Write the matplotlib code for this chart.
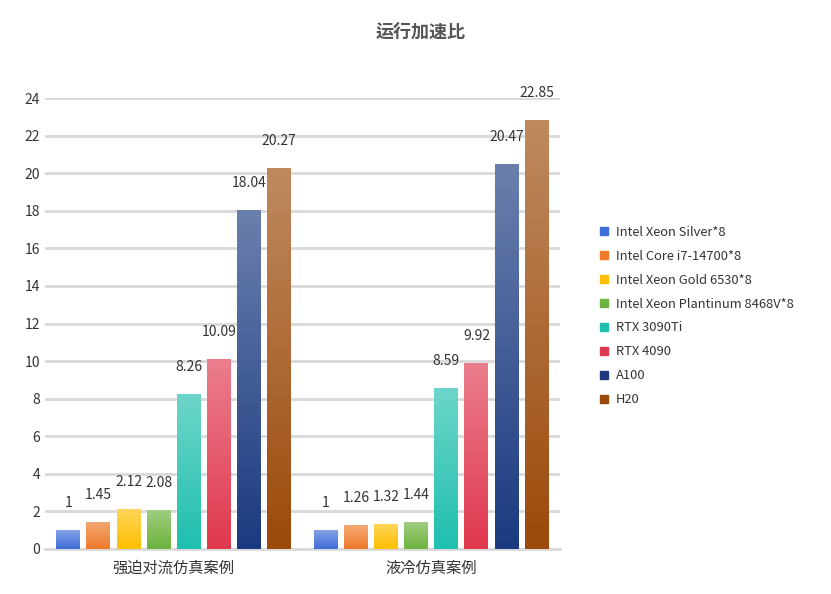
import matplotlib
matplotlib.use("Agg")
import matplotlib.pyplot as plt
import numpy as np
from matplotlib.colors import LinearSegmentedColormap, to_rgb
plt.rcParams['font.family'] = ['Noto Sans CJK JP', 'Noto Sans CJK SC', 'Noto Sans CJK TC', 'Noto Sans CJK KR', 'DejaVu Sans']

categories = ["强迫对流仿真案例", "液冷仿真案例"]
series = ["Intel Xeon Silver*8", "Intel Core i7-14700*8", "Intel Xeon Gold 6530*8",
          "Intel Xeon Plantinum 8468V*8", "RTX 3090Ti", "RTX 4090", "A100", "H20"]
values = [[1, 1], [1.45, 1.26], [2.12, 1.32], [2.08, 1.44],
          [8.26, 8.59], [10.09, 9.92], [18.04, 20.47], [20.27, 22.85]]
colors = ["#3F6FD8", "#EE7A2A", "#FFBE00", "#6DB33F", "#1FBFAE", "#E0384F", "#1B3A80", "#9C4A0A"]

fig = plt.figure(figsize=(8.31, 5.94), dpi=100)
ax = fig.add_axes([45/831, 1-549/594, 515/831, 451/594])
w = 0.093; step = 0.117
x = np.arange(len(categories))
for i, (s, v, c) in enumerate(zip(series, values, colors)):
    xs = x + (i - 3.5) * step
    bars = ax.bar(xs, v, w, color=c, label=s, zorder=3)
    lite = tuple(min(1, a + (1 - a) * 0.35) for a in to_rgb(c))
    cmap = LinearSegmentedColormap.from_list("g", [c, lite])
    for b in bars:
        b.set_facecolor("none")
        im = ax.imshow(np.linspace(0, 1, 100).reshape(-1, 1), cmap=cmap, aspect='auto',
                       extent=[b.get_x(), b.get_x() + w, 0, b.get_height()],
                       origin='lower', zorder=3)
        im.set_clip_path(b)
        ax.annotate(f"{b.get_height():g}", (b.get_x() + w/2, b.get_height()),
                    xytext=(0, 20), textcoords='offset pixels', ha='center', va='bottom',
                    fontsize=10, color='#333333', zorder=4)
ax.set_xlim(-0.5, 1.5)
ax.set_ylim(0, 24)
ax.set_yticks(range(0, 25, 2))
ax.set_xticks(x)
ax.set_xticklabels(categories, fontsize=11, color='#333333')
ax.tick_params(axis='y', length=0, labelsize=10, labelcolor='#333333')
ax.tick_params(axis='x', length=0, pad=8)
ax.grid(axis='y', color='#D9D9D9', lw=2, zorder=0)
for sp in ['top', 'right', 'left']:
    ax.spines[sp].set_visible(False)
ax.spines['bottom'].set_color('#D9D9D9'); ax.spines['bottom'].set_linewidth(2)
handles = [plt.Rectangle((0, 0), 1, 1, color=c) for c in colors]
fig.legend(handles, series, loc='center left', bbox_to_anchor=(600/831, 1-316/594),
           frameon=False, fontsize=9.3, handlelength=0.6, handleheight=0.6,
           labelspacing=0.85, handletextpad=0.6, labelcolor='#333333',
           borderaxespad=0, borderpad=0)
fig.text(421/831, 1-32/594, "运行加速比", ha='center', va='center', fontsize=13,
         fontweight='bold', color='#555555')
fig.savefig("out.png", dpi=100)
